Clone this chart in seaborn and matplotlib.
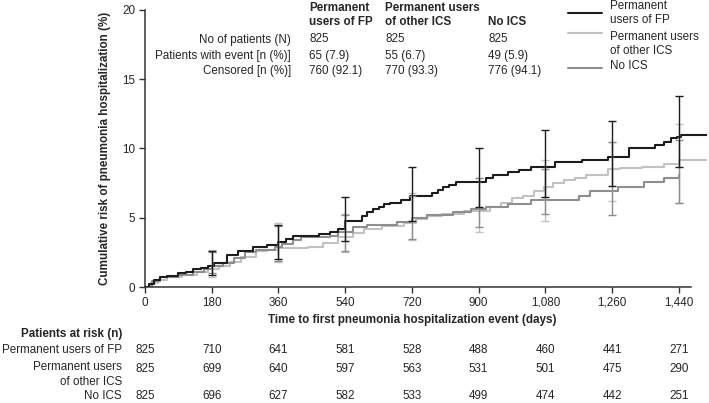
import pandas as pd
import numpy as np
import matplotlib
matplotlib.use("Agg")
import matplotlib.pyplot as plt
import matplotlib.transforms as mtransforms
from matplotlib import font_manager
import seaborn as sns

# cumulative risk curves (step knots)
fp_t = [0, 10, 25, 40, 60, 90, 110, 130, 150, 170, 185, 220, 250, 290, 330, 360, 380, 400, 470, 500,
        520, 540, 585, 600, 615, 630, 645, 660, 690, 715, 775, 790, 805, 820, 840, 920, 940, 980, 1010,
        1040, 1105, 1180, 1250, 1305, 1375, 1400, 1420, 1435, 1445, 1516]
fp_v = [0, 0.2, 0.5, 0.7, 0.8, 1.0, 1.1, 1.3, 1.4, 1.5, 1.7, 2.3, 2.6, 2.9, 3.0, 3.25, 3.5, 3.7, 3.8, 4.0,
        4.2, 4.8, 5.1, 5.4, 5.6, 5.8, 6.0, 6.1, 6.3, 6.6, 6.8, 7.0, 7.2, 7.4, 7.6, 7.9, 8.1, 8.3, 8.45,
        8.7, 9.0, 9.2, 9.4, 10.0, 10.25, 10.5, 10.75, 10.85, 11.0, 11.0]

ics_t = [0, 15, 35, 60, 100, 140, 170, 200, 230, 260, 300, 330, 360, 440, 480, 520, 560, 590, 640, 700,
         730, 760, 800, 860, 930, 960, 990, 1020, 1050, 1075, 1100, 1130, 1160, 1190, 1250, 1280, 1340,
         1400, 1440, 1516]
ics_v = [0, 0.3, 0.5, 0.7, 0.9, 1.1, 1.3, 1.5, 1.8, 2.2, 2.6, 2.7, 2.8, 2.9, 3.2, 3.6, 3.9, 4.2, 4.4, 4.6,
         4.9, 5.1, 5.3, 5.5, 5.8, 6.1, 6.4, 6.6, 6.9, 7.2, 7.5, 7.7, 7.9, 8.1, 8.5, 8.6, 8.7,
         8.9, 9.2, 9.2]

no_t = [0, 20, 40, 90, 130, 160, 180, 210, 240, 270, 300, 350, 370, 400, 420, 500, 520, 560, 600, 680,
        720, 760, 830, 880, 920, 980, 1040, 1170, 1200, 1275, 1345, 1400, 1440]
no_v = [0, 0.4, 0.7, 0.9, 1.1, 1.3, 1.5, 1.7, 2.1, 2.5, 2.7, 2.9, 3.1, 3.4, 3.6, 3.7, 4.0, 4.3, 4.5, 4.7,
        5.0, 5.2, 5.4, 5.6, 5.8, 6.0, 6.3, 6.6, 6.9, 7.2, 7.6, 7.9, 8.1]

# confidence intervals at the milestones
ci_t = [180, 360, 540, 720, 900, 1080, 1260, 1440]
fp_mid = [1.7, 3.25, 4.8, 6.6, 7.7, 8.7, 9.4, 11.0]
fp_lo = [0.9, 2.0, 3.3, 4.8, 5.8, 6.5, 7.3, 8.7]
fp_hi = [2.6, 4.5, 6.5, 8.7, 10.0, 11.3, 12.0, 13.8]
ics_mid = [1.5, 2.8, 3.9, 4.7, 5.6, 7.1, 8.5, 9.2]
ics_lo = [0.7, 1.8, 2.5, 3.4, 4.0, 4.8, 6.2, 6.1]
ics_hi = [2.7, 4.6, 5.3, 6.8, 7.9, 9.2, 10.5, 11.8]
no_mid = [1.5, 3.0, 4.3, 5.0, 5.8, 6.3, 7.0, 8.1]
no_lo = [1.0, 1.9, 2.6, 3.5, 4.3, 5.3, 5.2, 6.1]
no_hi = [2.5, 4.4, 5.2, 6.6, 7.9, 8.5, 10.5, 10.6]

groups = ["Permanent users of FP", "Permanent users of other ICS", "No ICS"]
colors = {"Permanent users of FP": "#1c1c1c", "Permanent users of other ICS": "#c2c2c2", "No ICS": "#8e8e8e"}

# summary table
tbl_rows = ["No of patients (N)", "Patients with event [n (%)]", "Censored [n (%)]"]
tbl_heads = ["Permanent\nusers of FP", "Permanent users\nof other ICS", "No ICS"]
tbl_vals = [["825", "65 (7.9)", "760 (92.1)"],
            ["825", "55 (6.7)", "770 (93.3)"],
            ["825", "49 (5.9)", "776 (94.1)"]]

# patients at risk
risk_t = [0, 180, 360, 540, 720, 900, 1080, 1260, 1440]
risk_fp = [825, 710, 641, 581, 528, 488, 460, 441, 271]
risk_ics = [825, 699, 640, 597, 563, 531, 501, 475, 290]
risk_no = [825, 696, 627, 582, 533, 499, 474, 442, 251]
risk_labels = ["Permanent users of FP", "Permanent users\nof other ICS", "No ICS"]

sns.set_style("ticks")
plt.rcParams['font.family'] = ['Liberation Sans', 'DejaVu Sans']
FS = 8.4

# narrow face for the numbers, if it is there
names = {f.name for f in font_manager.fontManager.ttflist}
NARROW = "Liberation Sans Narrow" if "Liberation Sans Narrow" in names else "Liberation Sans"
NFS = 9.2 if NARROW != "Liberation Sans" else FS

W, H = 709, 403
fig = plt.figure(figsize=(W / 100, H / 100), dpi=100)
ax = fig.add_axes([145 / W, 1 - 287 / H, 562 / W, 277 / H])

def px(x, y):
    return x / W, 1 - y / H

df = pd.concat([
    pd.DataFrame({"t": fp_t, "risk": fp_v, "group": groups[0]}),
    pd.DataFrame({"t": ics_t, "risk": ics_v, "group": groups[1]}),
    pd.DataFrame({"t": no_t, "risk": no_v, "group": groups[2]}),
])
# draw light/medium first so black is on top
for g in [groups[1], groups[2], groups[0]]:
    sns.lineplot(data=df[df["group"] == g], x="t", y="risk", color=colors[g], estimator=None,
                 drawstyle="steps-post", linewidth=1.5, ax=ax, legend=False)

for mid, lo, hi, g in [(ics_mid, ics_lo, ics_hi, groups[1]), (no_mid, no_lo, no_hi, groups[2]),
                       (fp_mid, fp_lo, fp_hi, groups[0])]:
    mid = np.array(mid)
    err = [mid - np.array(lo), np.array(hi) - mid]
    ax.errorbar(ci_t, mid, yerr=err, fmt="none", ecolor=colors[g], elinewidth=1.0,
                capsize=3, capthick=1.0)

ax.set_xlim(0, 1516)
ax.set_ylim(0, 20)
ax.set_xticks(risk_t)
ax.set_xticklabels([f"{t:,}" for t in risk_t], fontsize=NFS, family=NARROW)
ax.set_yticks([0, 5, 10, 15, 20])
ax.set_yticklabels(["0", "5", "10", "15", "20"], fontsize=FS)
ax.tick_params(length=4, width=1, color="#333333", pad=3)
sns.despine(ax=ax)
ax.spines["bottom"].set_bounds(0, 1472)
for s in ["left", "bottom"]:
    ax.spines[s].set_color("#333333")
    ax.spines[s].set_linewidth(1.1)
ax.set_xlabel("")
ax.set_ylabel("Cumulative risk of pneumonia hospitalization (%)", fontsize=FS, fontweight="bold", labelpad=8)

fig.text(*px(412, 320), "Time to first pneumonia hospitalization event (days)", fontsize=FS,
         fontweight="bold", ha="center", va="center")

# summary table at top
row_y = [39.5, 55.5, 71]
col_x = [309, 385, 488]
for r, y in zip(tbl_rows, row_y):
    fig.text(*px(291, y), r, fontsize=FS, ha="right", va="center")
for h, x, vals in zip(tbl_heads, col_x, tbl_vals):
    fig.text(*px(x, 28), h, fontsize=FS, fontweight="bold", ha="left", va="bottom", linespacing=1.25)
    for v, y in zip(vals, row_y):
        fig.text(*px(x, y), v, fontsize=FS, ha="left", va="center")

# legend
leg_y = [13, 33, 68]
leg_txt = ["Permanent\nusers of FP", "Permanent users\nof other ICS", "No ICS"]
leg_txt_y = [13, 44, 66]
for g, ly, t, ty in zip(groups, leg_y, leg_txt, leg_txt_y):
    fig.add_artist(plt.Line2D([568 / W, 602 / W], [1 - ly / H, 1 - ly / H], color=colors[g], linewidth=1.5))
    fig.text(*px(610, ty), t, fontsize=FS, ha="left", va="center", linespacing=1.25)

# patients at risk table
tr = mtransforms.blended_transform_factory(ax.transData, fig.transFigure)
fig.text(*px(122, 334), "Patients at risk (n)", fontsize=FS, fontweight="bold", ha="right", va="center")
risk_y = [350, 369, 396]
risk_lab_y = [350, 374.5, 396]
for lab, vals, y, ly in zip(risk_labels, [risk_fp, risk_ics, risk_no], risk_y, risk_lab_y):
    fig.text(*px(122, ly), lab, fontsize=FS, ha="right", va="center", linespacing=1.25)
    for t, v in zip(risk_t, vals):
        ax.text(t, 1 - y / H, str(v), fontsize=NFS, family=NARROW, ha="center", va="center",
                transform=tr, clip_on=False)

fig.savefig("out.png", dpi=100)
